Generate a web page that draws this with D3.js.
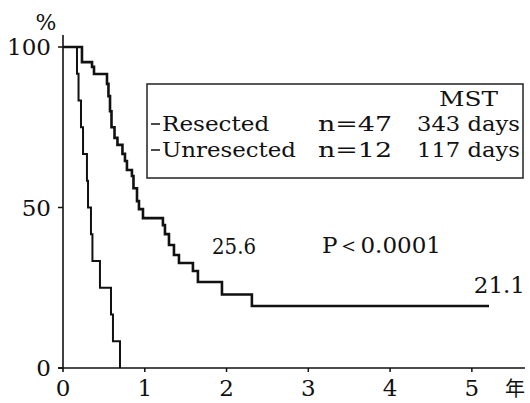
<!DOCTYPE html>
<html>
<head>
<meta charset="utf-8">
<script src="https://cdn.jsdelivr.net/npm/d3@7"></script>
<style>
  body { margin: 0; background: #fff; }
  text { fill: #111; font-family: "DejaVu Serif", "DejaVu Sans", serif; }
</style>
</head>
<body>
<svg id="chart" width="530" height="403"></svg>
<script>
// survival curves (years, %)
var resectedTime = [0, 0.232, 0.355, 0.379, 0.538, 0.556, 0.575, 0.593, 0.63, 0.666, 0.727, 0.758, 0.782, 0.843, 0.862, 0.905, 0.929, 0.978, 1.222, 1.247, 1.296, 1.357, 1.418, 1.589, 1.65, 1.944, 2.31, 5.21];
var resectedSurv = [100, 95.3, 93.8, 91.6, 88.5, 84.7, 80, 75, 71.7, 69.5, 66.7, 64.5, 61.7, 59.8, 56, 52, 49.5, 46.7, 44.5, 41.7, 38.3, 35.2, 32.7, 30.2, 26.8, 22.9, 19.3, 19.3];
var unresectedTime = [0, 0.171, 0.19, 0.22, 0.245, 0.293, 0.306, 0.342, 0.36, 0.452, 0.587, 0.611, 0.697];
var unresectedSurv = [100, 91.7, 83.3, 75, 66.7, 58.3, 50, 41.7, 33.3, 25, 16.7, 8.3, 0];

var xTicks = [0, 1, 2, 3, 4, 5];
var yTicks = [0, 50, 100];

var legendRows = [
  {name: "Resected", n: "n=47", mst: "343 days"},
  {name: "Unresected", n: "n=12", mst: "117 days"}
];

var svg = d3.select("#chart");

var x = d3.scaleLinear().domain([0, 5.65]).range([63, 525]);
var y = d3.scaleLinear().domain([0, 100]).range([368, 47]);

// axes
svg.append("line").attr("x1", x(0)).attr("x2", x(0))
  .attr("y1", y(103.7)).attr("y2", y(0) + 4)
  .attr("stroke", "#111").attr("stroke-width", 1.6);
svg.append("line").attr("x1", x(0) - 5).attr("x2", x(5.65))
  .attr("y1", y(0)).attr("y2", y(0))
  .attr("stroke", "#111").attr("stroke-width", 1.6);

svg.selectAll(".ytick").data(yTicks).enter().append("line")
  .attr("x1", x(0) - 5).attr("x2", x(0))
  .attr("y1", d => y(d)).attr("y2", d => y(d))
  .attr("stroke", "#111").attr("stroke-width", 1.5);
svg.selectAll(".ylab").data(yTicks).enter().append("text")
  .attr("x", 51).attr("y", d => y(d) + 8)
  .attr("text-anchor", "end")
  .style("font-size", "23px")
  .text(d => d);

svg.selectAll(".xtick").data(xTicks.slice(1)).enter().append("line")
  .attr("x1", d => x(d)).attr("x2", d => x(d))
  .attr("y1", y(0)).attr("y2", y(0) + 4)
  .attr("stroke", "#111").attr("stroke-width", 1.5);
svg.selectAll(".xlab").data(xTicks).enter().append("text")
  .attr("x", d => x(d)).attr("y", 396)
  .attr("text-anchor", "middle")
  .style("font-size", "23px")
  .text(d => d);

svg.append("text").attr("x", 46).attr("y", 30).attr("text-anchor", "middle")
  .style("font-size", "22px").text("%");
svg.append("text").attr("x", 505).attr("y", 396)
  .style("font-family", "'Noto Sans CJK JP', sans-serif").style("font-size", "20px").text("年");

// curves
var line = d3.line().x(d => x(d[0])).y(d => y(d[1])).curve(d3.curveStepAfter);
svg.append("path").datum(d3.zip(unresectedTime, unresectedSurv))
  .attr("d", line).attr("fill", "none")
  .attr("stroke", "#111").attr("stroke-width", 2);
svg.append("path").datum(d3.zip(resectedTime, resectedSurv))
  .attr("d", line).attr("fill", "none")
  .attr("stroke", "#111").attr("stroke-width", 2.6);

// legend box
var lg = svg.append("g");
lg.append("rect").attr("x", 147).attr("y", 84).attr("width", 376).attr("height", 94)
  .attr("fill", "#fff").attr("stroke", "#222").attr("stroke-width", 1.5);
lg.append("text").attr("x", 439).attr("y", 106)
  .attr("textLength", 59).attr("lengthAdjust", "spacingAndGlyphs")
  .style("font-size", "20px").text("MST");
legendRows.forEach(function(r, i) {
  var by = 131 + i * 26;
  lg.append("line").attr("x1", 151).attr("x2", 160).attr("y1", by - 7).attr("y2", by - 7)
    .attr("stroke", "#111").attr("stroke-width", 1.5);
  lg.append("text").attr("x", 162).attr("y", by)
    .attr("textLength", r.name.length * 13.4).attr("lengthAdjust", "spacingAndGlyphs")
    .style("font-size", "21px").text(r.name);
  lg.append("text").attr("x", 318).attr("y", by)
    .attr("textLength", 74).attr("lengthAdjust", "spacingAndGlyphs")
    .style("font-size", "21px").text(r.n);
  lg.append("text").attr("x", 417).attr("y", by)
    .attr("textLength", 103).attr("lengthAdjust", "spacingAndGlyphs")
    .style("font-size", "21px").text(r.mst);
});

// annotations
svg.append("text").attr("x", 212).attr("y", 254)
  .attr("textLength", 44).attr("lengthAdjust", "spacingAndGlyphs")
  .style("font-size", "23px").text("25.6");
svg.append("text").attr("x", 322).attr("y", 253)
  .style("font-size", "23px").text("P＜0.0001");
svg.append("text").attr("x", 525).attr("y", 293).attr("text-anchor", "end")
  .style("font-size", "23px").text("21.1");
</script>
</body>
</html>
